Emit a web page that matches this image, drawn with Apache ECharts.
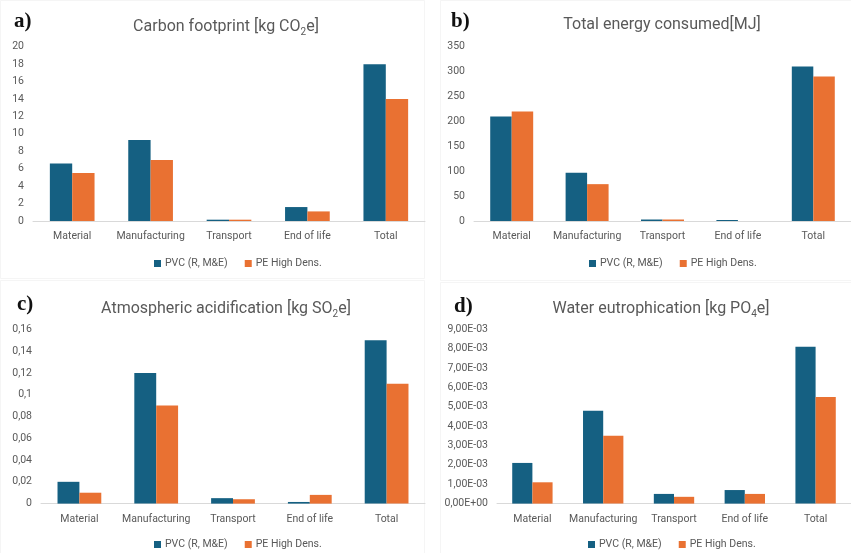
<!DOCTYPE html>
<html>
<head>
<meta charset="utf-8">
<script src="https://cdn.jsdelivr.net/npm/echarts@6/dist/echarts.min.js"></script>
<style>
html,body{margin:0;padding:0;background:#fff;}
#chart{width:851px;height:553px;}
</style>
</head>
<body>
<div id="chart"></div>
<script>
const categories = ['Material', 'Manufacturing', 'Transport', 'End of life', 'Total'];
const seriesNames = ['PVC (R, M&E)', 'PE High Dens.'];
const carbonPVC = [6.6, 9.3, 0.15, 1.6, 18.0];
const carbonPE = [5.5, 7.0, 0.15, 1.1, 14.0];
const energyPVC = [210, 97, 3, 2, 310];
const energyPE = [220, 74, 3, 0, 290];
const acidPVC = [0.02, 0.12, 0.005, 0.0015, 0.15];
const acidPE = [0.01, 0.09, 0.004, 0.008, 0.11];
const eutroPVC = [0.0021, 0.0048, 0.0005, 0.0007, 0.0081];
const eutroPE = [0.0011, 0.0035, 0.00035, 0.0005, 0.0055];
const yMax = [20, 350, 0.16, 0.009];
const yInterval = [2, 50, 0.02, 0.001];
const panelLetters = ['a)', 'b)', 'c)', 'd)'];

const colors = ['#156082', '#E97132'];
const textGrey = '#595959';
const font = 'Roboto';

function fmtComma(v) { return String(+v.toFixed(4)).replace('.', ','); }
function fmtSci(v) {
  const parts = v.toExponential(2).split('e');
  const m = parts[0].replace('.', ',');
  const e = parseInt(parts[1], 10);
  const sign = e < 0 ? '-' : '+';
  const ea = Math.abs(e);
  return m + 'E' + sign + (ea < 10 ? '0' + ea : ea);
}
const formatters = [v => String(v), v => String(v), fmtComma, fmtSci];

const grids = [
  { left: 33, right: 426, top: 46.7, height: 174.3 },
  { left: 474, right: -10, top: 46.7, height: 174.3 },
  { left: 41, right: 426, top: 329.3, height: 174.3 },
  { left: 497, right: -9, top: 329.3, height: 174.3 }
];

const dataSets = [[carbonPVC, carbonPE], [energyPVC, energyPE], [acidPVC, acidPE], [eutroPVC, eutroPE]];

const titleStyle = {
  t: { fontSize: 16, color: textGrey, fontFamily: font, fontWeight: 'normal' },
  s: { fontSize: 10, color: textGrey, fontFamily: font, fontWeight: 'normal', padding: [10, 0, 0, 0] }
};
const titles = [
  { text: '{t|Carbon footprint [kg CO}{s|2}{t|e]}', left: 221, top: 12 },
  { text: '{t|Total energy consumed[MJ]}', left: 657, top: 12 },
  { text: '{t|Atmospheric acidification [kg SO}{s|2}{t|e]}', left: 221, top: 294 },
  { text: '{t|Water eutrophication [kg PO}{s|4}{t|e]}', left: 656, top: 294 }
].map(t => ({
  text: t.text, left: t.left, top: t.top, textAlign: 'center',
  textStyle: { fontWeight: 'normal', rich: titleStyle }
}));

const letterPos = [[9, 6], [446, 6], [12, 289], [449, 291]];
const letterTitles = panelLetters.map((l, i) => ({
  text: l, left: letterPos[i][0], top: letterPos[i][1],
  textStyle: { fontFamily: 'Liberation Serif', fontWeight: 'bold', fontSize: 21, color: '#111' }
}));

const legendPos = [[149, 253], [584, 253], [149, 534], [583, 534]];
const legends = legendPos.map(p => ({
  data: seriesNames, left: p[0], top: p[1],
  orient: 'horizontal', itemWidth: 7, itemHeight: 7, itemGap: 17,
  icon: 'rect', selectedMode: false,
  textStyle: { fontSize: 10.5, color: textGrey, fontFamily: font, padding: [0, 0, 0, -1] }
}));

const xAxes = grids.map((g, i) => ({
  type: 'category', gridIndex: i, data: categories,
  axisLine: { lineStyle: { color: '#d9d9d9', width: 1 } },
  axisTick: { show: false },
  axisLabel: { color: textGrey, fontSize: 10.5, fontFamily: font, margin: 10, interval: 0 }
}));
const yAxes = grids.map((g, i) => ({
  type: 'value', gridIndex: i, min: 0, max: yMax[i], interval: yInterval[i],
  splitLine: { show: false },
  axisLine: { show: false }, axisTick: { show: false },
  axisLabel: { color: textGrey, fontSize: 10.5, fontFamily: font, margin: 9, formatter: formatters[i] }
}));

const series = [];
dataSets.forEach((ds, i) => {
  ds.forEach((d, j) => {
    series.push({
      type: 'bar', name: seriesNames[j], xAxisIndex: i, yAxisIndex: i,
      data: d, barGap: '0%', barCategoryGap: '43%',
      itemStyle: { color: colors[j] }
    });
  });
});

const chart = echarts.init(document.getElementById('chart'), null, { renderer: 'canvas' });
chart.setOption({
  animation: false,
  backgroundColor: '#fff',
  graphic: [
    { type: 'rect', shape: { x: 0.5, y: 0.5, width: 424, height: 278 }, style: { fill: 'none', stroke: '#f5f5f5', lineWidth: 1 } },
    { type: 'rect', shape: { x: 440.5, y: 0.5, width: 420, height: 280 }, style: { fill: 'none', stroke: '#f5f5f5', lineWidth: 1 } },
    { type: 'rect', shape: { x: 0.5, y: 280.5, width: 424, height: 280 }, style: { fill: 'none', stroke: '#f5f5f5', lineWidth: 1 } },
    { type: 'rect', shape: { x: 440.5, y: 282.5, width: 420, height: 280 }, style: { fill: 'none', stroke: '#f5f5f5', lineWidth: 1 } }
  ],
  title: titles.concat(letterTitles),
  legend: legends,
  grid: grids,
  xAxis: xAxes,
  yAxis: yAxes,
  series: series
});
</script>
</body>
</html>
